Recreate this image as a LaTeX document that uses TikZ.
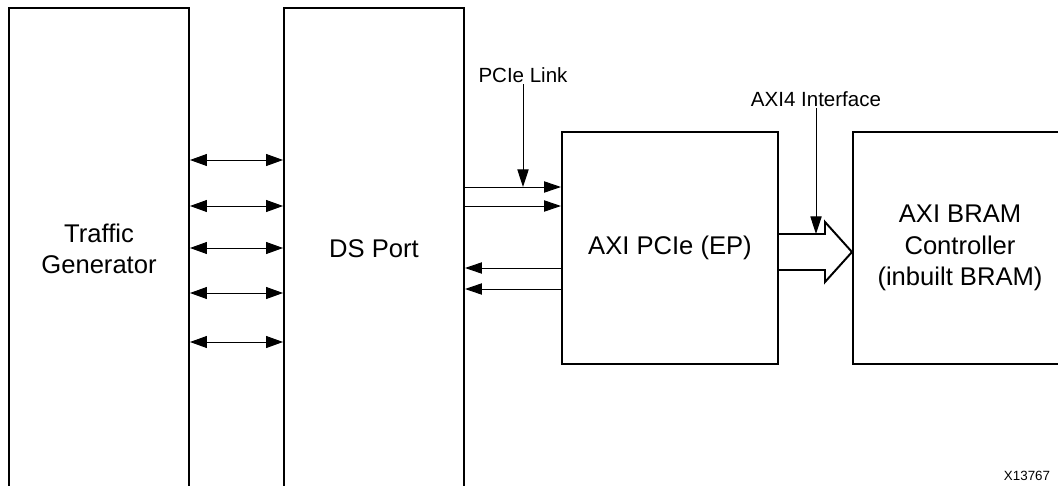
\documentclass[tikz,border=0pt]{standalone}
\usepackage{fontspec}
\setmainfont{Liberation Sans}
\usetikzlibrary{arrows.meta}

\begin{document}
\begin{tikzpicture}[
    x=0.025cm, y=-0.025cm,
    box/.style={draw, line width=1.4pt, inner sep=0pt, align=center, font=\fontsize{18.2}{22.2}\selectfont},
    link/.style={-{Triangle[length=12pt, width=8pt]}, line width=0.7pt},
    dlink/.style={{Triangle[length=12pt, width=8.5pt]}-{Triangle[length=12pt, width=8.5pt]}, line width=0.7pt},
    note/.style={inner sep=1pt, font=\fontsize{14.6}{17}\selectfont},
    ptr/.style={-{Triangle[length=12.5pt, width=8pt]}, line width=0.7pt}
]
\useasboundingbox (0,0) rectangle (1058,486);
\clip (0,0) rectangle (1058,486);

% blocks
\node[box, minimum width=4.5cm, minimum height=12.05cm] (tg) at (99,249) {Traffic\\Generator};
\node[box, minimum width=4.5cm, minimum height=12.05cm] (ds) at (374,249) {DS Port};
\node[box, minimum width=5.4cm, minimum height=5.8cm] (pcie) at (670,248) {AXI PCIe (EP)};
\node[box, minimum width=5.35cm, minimum height=5.8cm] (bram) at (960,248) {AXI BRAM\\Controller\\(inbuilt BRAM)};

% traffic generator <-> DS port
\foreach \y in {160,206,248,293,342}
    \draw[dlink] (tg.east |- 0,\y) -- (ds.west |- 0,\y);

% PCIe link
\foreach \y in {187,206}
    \draw[link] (ds.east |- 0,\y) -- (pcie.west |- 0,\y);
\foreach \y in {268,289}
    \draw[link] (pcie.west |- 0,\y) -- (ds.east |- 0,\y);

% AXI4 interface (hollow arrow)
\draw[line width=1.4pt, line join=miter] (pcie.east |- 0,234) -- (825,234) -- (825,222) -- (bram.west |- 0,252)
    -- (825,282) -- (825,270) -- (pcie.east |- 0,270);

% labels
\node[note] (lnklbl) at (523,75) {PCIe Link};
\draw[ptr] (lnklbl.south) -- (lnklbl.south |- 0,187);
\node[note] (axilbl) at (816,99) {AXI4 Interface};
\draw[ptr] (axilbl.south) -- (axilbl.south |- 0,234);

\node[font=\fontsize{9.5}{11}\selectfont, inner sep=0pt] (fig) at (1027,476) {X13767};
\end{tikzpicture}
\end{document}
